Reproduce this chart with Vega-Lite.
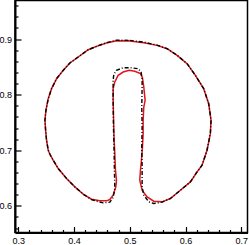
{
  "$schema": "https://vega.github.io/schema/vega-lite/v6.json",
  "width": 232.5,
  "height": 232,
  "autosize": {"type": "none"},
  "padding": {"left": 15, "top": 0.5, "right": 1.5, "bottom": 12.5},
  "background": "white",
  "config": {
    "view": {"stroke": "black", "strokeWidth": 1.5},
    "axis": {
      "domainColor": "black", "domainWidth": 2, "tickColor": "black", "tickWidth": 1.2,
      "labelFont": "Liberation Sans", "labelFontSize": 9, "labelColor": "black",
      "grid": false, "labelFlush": false, "labelOverlap": false, "labelBound": false, "title": null
    }
  },
  "datasets": {
    "red": [
      {"i": 0, "x": 0.5, "y": 0.8964}, {"i": 1, "x": 0.5251, "y": 0.8934}, {"i": 2, "x": 0.549, "y": 0.8886},
      {"i": 3, "x": 0.5669, "y": 0.8826}, {"i": 4, "x": 0.5848, "y": 0.8707}, {"i": 5, "x": 0.6027, "y": 0.8557},
      {"i": 6, "x": 0.6176, "y": 0.8347}, {"i": 7, "x": 0.6325, "y": 0.8108}, {"i": 8, "x": 0.6415, "y": 0.7838},
      {"i": 9, "x": 0.6457, "y": 0.7539}, {"i": 10, "x": 0.6445, "y": 0.7299}, {"i": 11, "x": 0.6385, "y": 0.7},
      {"i": 12, "x": 0.6296, "y": 0.6731}, {"i": 13, "x": 0.6194, "y": 0.6593}, {"i": 14, "x": 0.6087, "y": 0.6431},
      {"i": 15, "x": 0.5907, "y": 0.6281}, {"i": 16, "x": 0.5728, "y": 0.6132}, {"i": 17, "x": 0.5579, "y": 0.6072},
      {"i": 18, "x": 0.543, "y": 0.6084}, {"i": 19, "x": 0.531, "y": 0.6162}, {"i": 20, "x": 0.5221, "y": 0.6281},
      {"i": 21, "x": 0.5179, "y": 0.6461}, {"i": 22, "x": 0.5191, "y": 0.6641}, {"i": 23, "x": 0.5209, "y": 0.682},
      {"i": 24, "x": 0.5227, "y": 0.706}, {"i": 25, "x": 0.5239, "y": 0.7299}, {"i": 26, "x": 0.5239, "y": 0.7539},
      {"i": 27, "x": 0.5251, "y": 0.7778}, {"i": 28, "x": 0.5275, "y": 0.7898}, {"i": 29, "x": 0.5263, "y": 0.8018},
      {"i": 30, "x": 0.5251, "y": 0.8138}, {"i": 31, "x": 0.5227, "y": 0.8305}, {"i": 32, "x": 0.5191, "y": 0.8377},
      {"i": 33, "x": 0.509, "y": 0.8419}, {"i": 34, "x": 0.4988, "y": 0.8437}, {"i": 35, "x": 0.4881, "y": 0.8407},
      {"i": 36, "x": 0.4791, "y": 0.8347}, {"i": 37, "x": 0.4731, "y": 0.8228}, {"i": 38, "x": 0.4701, "y": 0.8108},
      {"i": 39, "x": 0.4701, "y": 0.7898}, {"i": 40, "x": 0.4707, "y": 0.7659}, {"i": 41, "x": 0.4713, "y": 0.7419},
      {"i": 42, "x": 0.4719, "y": 0.718}, {"i": 43, "x": 0.4731, "y": 0.694}, {"i": 44, "x": 0.4743, "y": 0.6641},
      {"i": 45, "x": 0.4761, "y": 0.6461}, {"i": 46, "x": 0.4749, "y": 0.6341}, {"i": 47, "x": 0.4701, "y": 0.6192},
      {"i": 48, "x": 0.4642, "y": 0.6114}, {"i": 49, "x": 0.4582, "y": 0.609}, {"i": 50, "x": 0.4463, "y": 0.609},
      {"i": 51, "x": 0.4313, "y": 0.612}, {"i": 52, "x": 0.4164, "y": 0.621}, {"i": 53, "x": 0.4015, "y": 0.6341},
      {"i": 54, "x": 0.3866, "y": 0.6491}, {"i": 55, "x": 0.3716, "y": 0.6671}, {"i": 56, "x": 0.3627, "y": 0.682},
      {"i": 57, "x": 0.3567, "y": 0.6928}, {"i": 58, "x": 0.3537, "y": 0.7}, {"i": 59, "x": 0.3507, "y": 0.718},
      {"i": 60, "x": 0.349, "y": 0.7359}, {"i": 61, "x": 0.3478, "y": 0.7539}, {"i": 62, "x": 0.3496, "y": 0.7719},
      {"i": 63, "x": 0.3537, "y": 0.7928}, {"i": 64, "x": 0.3597, "y": 0.8108}, {"i": 65, "x": 0.3687, "y": 0.8287},
      {"i": 66, "x": 0.3806, "y": 0.8437}, {"i": 67, "x": 0.3925, "y": 0.8569}, {"i": 68, "x": 0.4075, "y": 0.8677},
      {"i": 69, "x": 0.4254, "y": 0.8808}, {"i": 70, "x": 0.4403, "y": 0.8868}, {"i": 71, "x": 0.4582, "y": 0.8928},
      {"i": 72, "x": 0.4761, "y": 0.897}, {"i": 73, "x": 0.5, "y": 0.8964}
    ],
    "black": [
      {"i": 0, "x": 0.5, "y": 0.8975}, {"i": 1, "x": 0.5251, "y": 0.8945}, {"i": 2, "x": 0.549, "y": 0.889},
      {"i": 3, "x": 0.5669, "y": 0.8826}, {"i": 4, "x": 0.5848, "y": 0.871}, {"i": 5, "x": 0.6027, "y": 0.8557},
      {"i": 6, "x": 0.6176, "y": 0.8347}, {"i": 7, "x": 0.6325, "y": 0.8108}, {"i": 8, "x": 0.6415, "y": 0.7838},
      {"i": 9, "x": 0.6457, "y": 0.7539}, {"i": 10, "x": 0.6445, "y": 0.7299}, {"i": 11, "x": 0.6385, "y": 0.7},
      {"i": 12, "x": 0.6296, "y": 0.6731}, {"i": 13, "x": 0.6194, "y": 0.6593}, {"i": 14, "x": 0.6087, "y": 0.6431},
      {"i": 15, "x": 0.5907, "y": 0.6281}, {"i": 16, "x": 0.5728, "y": 0.6132}, {"i": 17, "x": 0.5579, "y": 0.6066},
      {"i": 18, "x": 0.543, "y": 0.6042}, {"i": 19, "x": 0.534, "y": 0.6072}, {"i": 20, "x": 0.5251, "y": 0.6192},
      {"i": 21, "x": 0.5221, "y": 0.6341}, {"i": 22, "x": 0.5221, "y": 0.6701}, {"i": 23, "x": 0.5215, "y": 0.706},
      {"i": 24, "x": 0.5221, "y": 0.7419}, {"i": 25, "x": 0.5215, "y": 0.7778}, {"i": 26, "x": 0.5221, "y": 0.8138},
      {"i": 27, "x": 0.5221, "y": 0.8287}, {"i": 28, "x": 0.5203, "y": 0.8407}, {"i": 29, "x": 0.5149, "y": 0.8467},
      {"i": 30, "x": 0.5, "y": 0.8485}, {"i": 31, "x": 0.4881, "y": 0.8485}, {"i": 32, "x": 0.4761, "y": 0.8437},
      {"i": 33, "x": 0.4713, "y": 0.8365}, {"i": 34, "x": 0.4701, "y": 0.8257}, {"i": 35, "x": 0.4701, "y": 0.7898},
      {"i": 36, "x": 0.4707, "y": 0.7419}, {"i": 37, "x": 0.4719, "y": 0.694}, {"i": 38, "x": 0.4725, "y": 0.6581},
      {"i": 39, "x": 0.4731, "y": 0.6311}, {"i": 40, "x": 0.4701, "y": 0.615}, {"i": 41, "x": 0.4642, "y": 0.6066},
      {"i": 42, "x": 0.4522, "y": 0.6054}, {"i": 43, "x": 0.4403, "y": 0.6084}, {"i": 44, "x": 0.4313, "y": 0.6114},
      {"i": 45, "x": 0.4164, "y": 0.621}, {"i": 46, "x": 0.4015, "y": 0.6341}, {"i": 47, "x": 0.3866, "y": 0.6491},
      {"i": 48, "x": 0.3716, "y": 0.6671}, {"i": 49, "x": 0.3627, "y": 0.682}, {"i": 50, "x": 0.3567, "y": 0.6928},
      {"i": 51, "x": 0.3537, "y": 0.7}, {"i": 52, "x": 0.3507, "y": 0.718}, {"i": 53, "x": 0.349, "y": 0.7359},
      {"i": 54, "x": 0.3478, "y": 0.7539}, {"i": 55, "x": 0.3496, "y": 0.7719}, {"i": 56, "x": 0.3537, "y": 0.7928},
      {"i": 57, "x": 0.3597, "y": 0.8108}, {"i": 58, "x": 0.3687, "y": 0.8287}, {"i": 59, "x": 0.3806, "y": 0.8437},
      {"i": 60, "x": 0.3925, "y": 0.8569}, {"i": 61, "x": 0.4075, "y": 0.8677}, {"i": 62, "x": 0.4254, "y": 0.8808},
      {"i": 63, "x": 0.4403, "y": 0.8868}, {"i": 64, "x": 0.4582, "y": 0.8935}, {"i": 65, "x": 0.4761, "y": 0.898},
      {"i": 66, "x": 0.5, "y": 0.8975}
    ]
  },
  "resolve": {"axis": {"x": "independent", "y": "independent"}},
  "layer": [
    {
      "data": {"name": "red"},
      "mark": {"type": "line", "color": "#e0141c", "strokeWidth": 1.5},
      "encoding": {
        "x": {
          "field": "x", "type": "quantitative",
          "scale": {"domain": [0.2941, 0.7111], "nice": false, "zero": false},
          "axis": {
            "orient": "bottom",
            "values": [0.3, 0.4, 0.5, 0.6, 0.7],
            "format": ".1f",
            "tickSize": -6,
            "labelPadding": 10
          }
        },
        "y": {
          "field": "y", "type": "quantitative",
          "scale": {"domain": [0.5521, 0.9693], "nice": false, "zero": false},
          "axis": {
            "orient": "left",
            "values": [0.6, 0.7, 0.8, 0.9],
            "format": ".1f",
            "tickSize": -6,
            "labelPadding": 9.5
          }
        },
        "order": {"field": "i", "type": "quantitative"}
      }
    },
    {
      "data": {"name": "black"},
      "mark": {"type": "line", "color": "black", "strokeWidth": 1.4, "strokeDash": [4, 2, 1, 2]},
      "encoding": {
        "x": {
          "field": "x", "type": "quantitative",
          "axis": {
            "orient": "bottom",
            "values": [0.32, 0.34, 0.36, 0.38, 0.42, 0.44, 0.46, 0.48, 0.52, 0.54, 0.56, 0.58, 0.62, 0.64, 0.66, 0.68],
            "labels": false,
            "domain": false,
            "tickSize": -3
          }
        },
        "y": {
          "field": "y", "type": "quantitative",
          "axis": {
            "orient": "left",
            "values": [0.56, 0.58, 0.62, 0.64, 0.66, 0.68, 0.72, 0.74, 0.76, 0.78, 0.82, 0.84, 0.86, 0.88, 0.92, 0.94, 0.96],
            "labels": false,
            "domain": false,
            "tickSize": -3
          }
        },
        "order": {"field": "i", "type": "quantitative"}
      }
    }
  ]
}
